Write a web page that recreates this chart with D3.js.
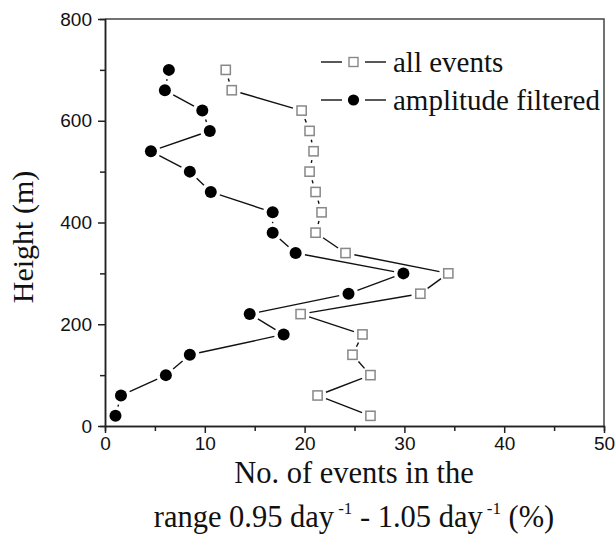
<!DOCTYPE html>
<html>
<head>
<meta charset="utf-8">
<script src="https://cdn.jsdelivr.net/npm/d3@7"></script>
<style>
  body { margin: 0; background: #fff; }
  svg { display: block; }
  .tick text { font-family: "Liberation Sans", Arial, sans-serif; font-size: 19px; fill: #111; }
</style>
</head>
<body>
<div id="chart"></div>
<script>
// heights (m) of each bin
const heights = [20, 60, 100, 140, 180, 220, 260, 300, 340, 380, 420, 460, 500, 540, 580, 620, 660, 700]
// percentage of events, all events
const allEvents = [26.6, 21.3, 26.6, 24.8, 25.8, 19.6, 31.6, 34.4, 24.1, 21.1, 21.7, 21.1, 20.5, 20.9, 20.5, 19.7, 12.7, 12.1]
// percentage of events, amplitude filtered
const filtered = [1.05, 1.6, 6.1, 8.5, 17.9, 14.5, 24.4, 29.9, 19.1, 16.8, 16.8, 10.6, 8.5, 4.6, 10.5, 9.75, 6.0, 6.4]

const xTicks = [0, 10, 20, 30, 40, 50]
const yTicks = [0, 200, 400, 600, 800]
const seriesNames = ["all events", "amplitude filtered"]

const W = 615, H = 535
const pl = 105, pr = 604, pt = 19, pb = 426
const serif = "Liberation Serif, Times New Roman, serif"

const svg = d3.select("#chart").append("svg").attr("width", W).attr("height", H)

const x = d3.scaleLinear().domain([0, 50]).range([pl, pr])
const y = d3.scaleLinear().domain([0, 800]).range([pb, pt])

// frame top and right
svg.append("path")
   .attr("d", `M${pl},${pt}H${pr}V${pb}`)
   .attr("fill", "none").attr("stroke", "#444").attr("stroke-width", 1.5)

// minor ticks
const xMinor = d3.axisBottom(x).tickValues(d3.range(5, 50, 10)).tickSize(5).tickFormat("")
const yMinor = d3.axisLeft(y).tickValues(d3.range(100, 800, 200)).tickSize(5).tickFormat("")
svg.append("g").attr("transform", `translate(0,${pb})`).call(xMinor)
svg.append("g").attr("transform", `translate(${pl},0)`).call(yMinor)

const xAxis = d3.axisBottom(x).tickValues(xTicks).tickSize(7).tickPadding(4).tickSizeOuter(0)
const yAxis = d3.axisLeft(y).tickValues(yTicks).tickSize(7).tickPadding(6).tickSizeOuter(0)
svg.append("g").attr("transform", `translate(0,${pb})`).call(xAxis)
svg.append("g").attr("transform", `translate(${pl},0)`).call(yAxis)

svg.selectAll(".domain, .tick line").attr("stroke", "#222").attr("stroke-width", 1.5)

// segments between markers, with a gap around each marker
function gapSegments(xs, gap) {
  const pts = heights.map((h, i) => [x(xs[i]), y(h)])
  const segs = []
  for (let i = 0; i < pts.length - 1; i++) {
    const [x1, y1] = pts[i], [x2, y2] = pts[i + 1]
    const len = Math.hypot(x2 - x1, y2 - y1)
    if (len <= gap * 2 + 1) continue
    const ux = (x2 - x1) / len, uy = (y2 - y1) / len
    segs.push([x1 + ux * gap, y1 + uy * gap, x2 - ux * gap, y2 - uy * gap])
  }
  return segs
}

const g = svg.append("g")

g.selectAll("line.f")
 .data(gapSegments(filtered, 9.5))
 .enter().append("line").attr("class", "f")
 .attr("x1", d => d[0]).attr("y1", d => d[1]).attr("x2", d => d[2]).attr("y2", d => d[3])
 .attr("stroke", "#111").attr("stroke-width", 1.4)

g.selectAll("line.a")
 .data(gapSegments(allEvents, 9))
 .enter().append("line").attr("class", "a")
 .attr("x1", d => d[0]).attr("y1", d => d[1]).attr("x2", d => d[2]).attr("y2", d => d[3])
 .attr("stroke", "#111").attr("stroke-width", 1.4)

g.selectAll("circle.f")
 .data(filtered)
 .enter().append("circle").attr("class", "f")
 .attr("cx", d => x(d)).attr("cy", (d, i) => y(heights[i]))
 .attr("r", 6).attr("fill", "#000")

g.selectAll("rect.a")
 .data(allEvents)
 .enter().append("rect").attr("class", "a")
 .attr("x", d => x(d) - 4.6).attr("y", (d, i) => y(heights[i]) - 4.6)
 .attr("width", 9.2).attr("height", 9.2)
 .attr("fill", "#fff").attr("stroke", "#888").attr("stroke-width", 1.5)

// legend
const leg = svg.append("g")
const rows = [62, 100]
rows.forEach((ry, i) => {
  leg.append("line").attr("x1", 321).attr("x2", 342).attr("y1", ry).attr("y2", ry).attr("stroke", "#111").attr("stroke-width", 1.4)
  leg.append("line").attr("x1", 365).attr("x2", 386).attr("y1", ry).attr("y2", ry).attr("stroke", "#111").attr("stroke-width", 1.4)
  if (i === 0) {
    leg.append("rect").attr("x", 349).attr("y", ry - 4.5).attr("width", 9).attr("height", 9)
       .attr("fill", "#fff").attr("stroke", "#888").attr("stroke-width", 1.4)
  } else {
    leg.append("circle").attr("cx", 353.5).attr("cy", ry).attr("r", 5.6).attr("fill", "#000")
  }
  leg.append("text").attr("x", 393).attr("y", ry + 10)
     .attr("font-family", serif).attr("font-size", 29)
     .attr("fill", "#111").text(seriesNames[i])
})

// axis titles
svg.append("text")
   .attr("transform", "translate(33,237) rotate(-90)")
   .attr("text-anchor", "middle")
   .attr("font-family", serif).attr("font-size", 30)
   .attr("fill", "#111").text("Height (m)")

svg.append("text")
   .attr("x", 354).attr("y", 483).attr("text-anchor", "middle")
   .attr("font-family", serif).attr("font-size", 30.5)
   .attr("fill", "#111").text("No. of events in the")

const t2 = svg.append("text")
   .attr("x", 354).attr("y", 527).attr("text-anchor", "middle")
   .attr("font-family", serif).attr("font-size", 30.5)
   .attr("fill", "#111")
t2.append("tspan").text("range 0.95 day")
t2.append("tspan").attr("dx", 4).attr("dy", -13).attr("font-size", 17).text("-1")
t2.append("tspan").attr("dy", 13).text(" - 1.05 day")
t2.append("tspan").attr("dx", 4).attr("dy", -13).attr("font-size", 17).text("-1")
t2.append("tspan").attr("dy", 13).text(" (%)")
</script>
</body>
</html>
